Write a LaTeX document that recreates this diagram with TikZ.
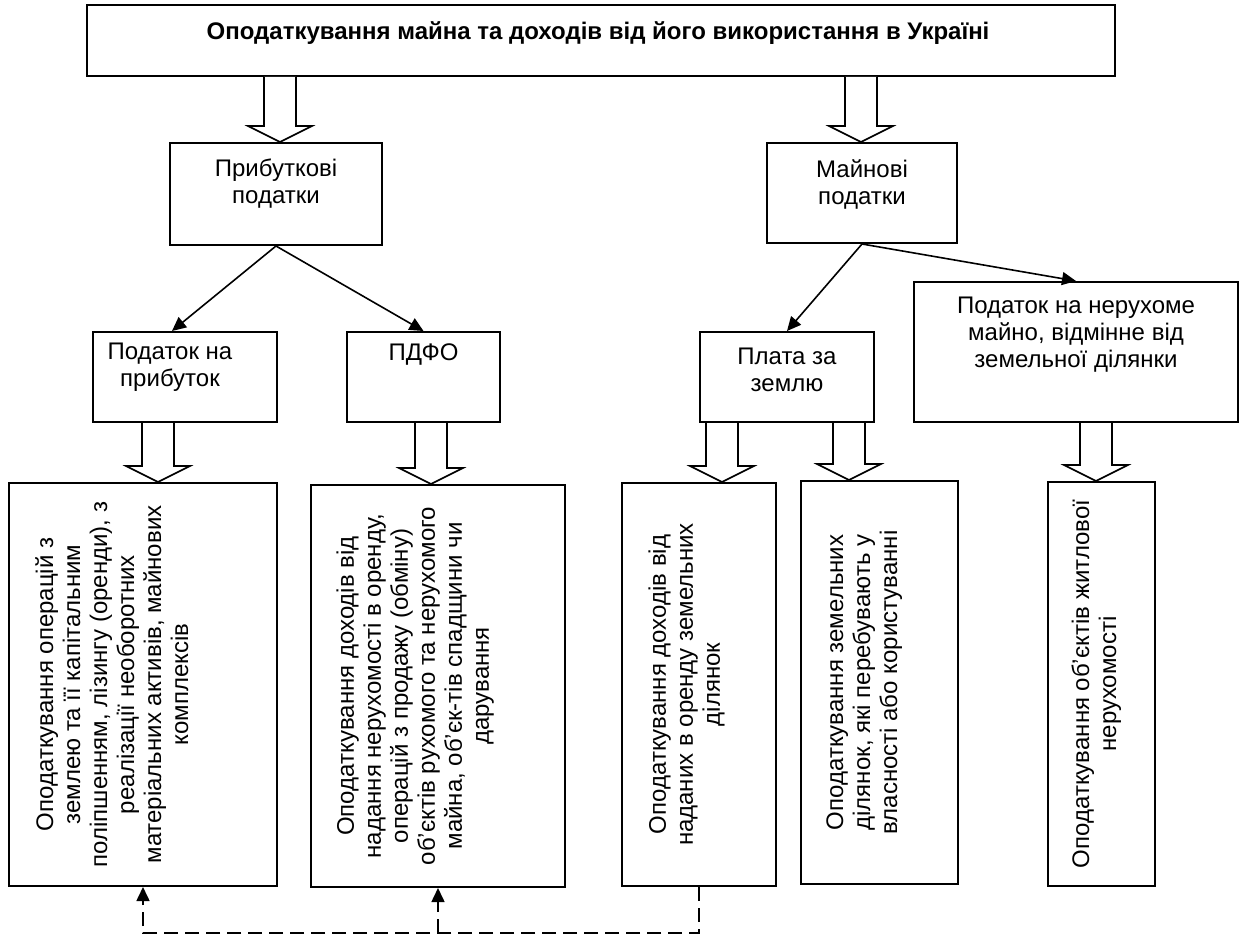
\documentclass[tikz,border=0pt]{standalone}
\usepackage{fontspec}
\setmainfont{Liberation Sans}
\usetikzlibrary{arrows.meta, calc, fit}

\begin{document}
\begin{tikzpicture}[
    x=0.5pt, y=-0.5pt,
    font=\fontsize{12}{13.5}\selectfont,
    box/.style={draw, line width=1pt, inner sep=0pt},
    txt/.style={align=center, inner sep=0pt, anchor=north},
    vtxt/.style={align=center, inner sep=0pt, anchor=north, rotate=90},
    hollow/.style={draw, line width=0.8pt, fill=white, line join=miter},
    conn/.style={line width=0.8pt, -{Triangle[length=7pt, width=6.5pt]}},
    dashconn/.style={conn, dash pattern=on 7pt off 3.5pt},
  ]
  \useasboundingbox (0,0) rectangle (1240,935);
  % title box
  \node[box, fit={(87,5) (1115,76)}] (title) {};
  \node[txt, font=\fontsize{12}{13.5}\selectfont\bfseries] (title-t)
    at ($(title.north)+(-3,17)$)
    {Оподаткування майна та доходів від його використання в Україні};
  % second level
  \node[box, fit={(170,143) (382,245)}] (pributk) {};
  \node[txt] (pributk-t) at ($(pributk.north)+(0,17)$) {Прибуткові\\податки};
  \node[box, fit={(767,143) (957,243)}] (mayn) {};
  \node[txt] (mayn-t) at ($(mayn.north)+(0,17)$) {Майнові\\податки};
  % third level
  \node[box, fit={(93,332) (277,422)}] (prybutok) {};
  \node[txt] (prybutok-t) at ($(prybutok.north)+(-15,12)$) {Податок на\\прибуток};
  \node[box, fit={(347,332) (500,422)}] (pdfo) {};
  \node[txt] (pdfo-t) at ($(pdfo.north)+(0,12)$) {ПДФО};
  \node[box, fit={(700,332) (874,422)}] (plata) {};
  \node[txt] (plata-t) at ($(plata.north)+(0,17)$) {Плата за\\землю};
  \node[box, fit={(914,282) (1238,422)}] (neruh) {};
  \node[txt] (neruh-t) at ($(neruh.north)+(0,16)$)
    {Податок на нерухоме\\майно, відмінне від\\земельної ділянки};
  % bottom boxes, rotated text
  \node[box, fit={(9,483) (277,886)}] (b1) {};
  \node[vtxt] (b1-t) at ($(b1.west)+(27,0)$)
    {Оподаткування операцій з\\землею та її капітальним\\поліпшенням, лізингу (оренди), з\\реалізації необоротних\\матеріальних активів, майнових\\комплексів};
  \node[box, fit={(311,485) (565,887)}] (b2) {};
  \node[vtxt] (b2-t) at ($(b2.west)+(26,0)$)
    {Оподаткування доходів від\\надання нерухомості в оренду,\\операцій з продажу (обміну)\\об’єктів рухомого та нерухомого\\майна, об’єк-тів спадщини чи\\дарування};
  \node[box, fit={(622,483) (776,886)}] (b3) {};
  \node[vtxt] (b3-t) at ($(b3.west)+(27,0)$)
    {Оподаткування доходів від\\наданих в оренду земельних\\ділянок};
  \node[box, fit={(801,481) (958,884)}] (b4) {};
  \node[vtxt] (b4-t) at ($(b4.west)+(26,0)$)
    {Оподаткування земельних\\ділянок, які перебувають у\\власності або користуванні};
  \node[box, fit={(1048,482) (1155,886)}] (b5) {};
  \node[vtxt] (b5-t) at ($(b5.west)+(24,0)$)
    {Оподаткування об’єктів житлової\\нерухомості};
  % hollow block arrows
  \foreach \ax/\src/\dst in {280/title/pributk, 861/title/mayn,
      158/prybutok/b1, 431/pdfo/b2, 722/plata/b3, 849/plata/b4,
      1096/neruh/b5} {
    \coordinate (fa-x) at (\ax,0);
    \coordinate (fa-top) at (fa-x |- \src.south);
    \coordinate (fa-tip) at (fa-x |- \dst.north);
    \draw[hollow] ($(fa-top)+(-16,0)$) -- ($(fa-tip)+(-16,-16)$)
      -- ($(fa-tip)+(-32,-16)$) -- (fa-tip) -- ($(fa-tip)+(32,-16)$)
      -- ($(fa-tip)+(16,-16)$) -- ($(fa-top)+(16,0)$);
  }
  % thin arrows
  \draw[conn] (pributk.south) -- ($(prybutok.north)+(-13,0)$);
  \draw[conn] (pributk.south) -- (pdfo.north);
  \draw[conn] (mayn.south) -- (plata.north);
  \draw[conn] (mayn.south) -- (neruh.north);
  % dashed links
  \draw[dashconn] (b3.south) -- ++(0,46) coordinate (dbot) -| (b1.south);
  \draw[dashconn] (dbot -| b2.south) -- (b2.south);
\end{tikzpicture}
\end{document}
